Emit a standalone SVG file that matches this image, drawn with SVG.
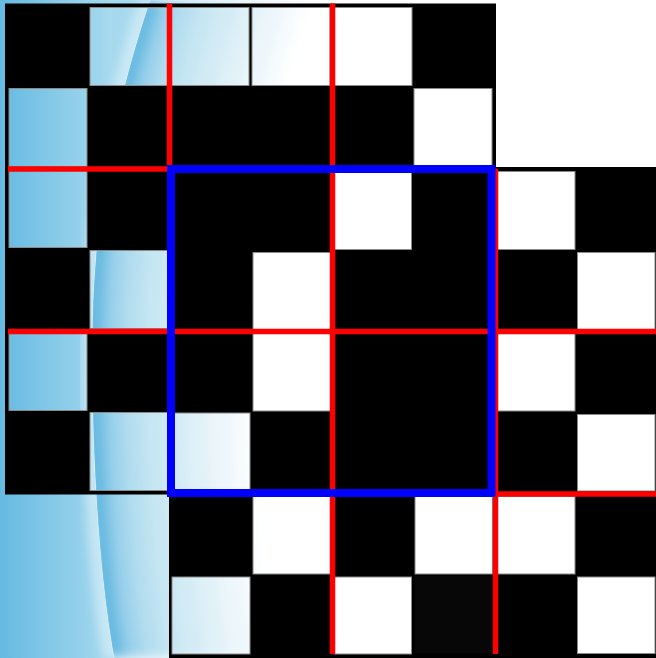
<svg xmlns="http://www.w3.org/2000/svg" xmlns:xlink="http://www.w3.org/1999/xlink" width="656" height="658" viewBox="0 0 656 658">
  <style>
    .board { fill: #000000; fill-rule: evenodd; }
    .cell { fill: none; stroke: #8a8a8a; stroke-width: 1; }
    .red { stroke: #ff0000; stroke-width: 5.5; fill: none; }
    .blue { stroke: #0000ff; stroke-width: 8; fill: none; }
  </style>
  <defs>
    <path id="curve" d="M150,0 C120,90 92,200 92,350 C92,470 100,580 114,658"/>
    <path id="rs" d="M150,0 C120,90 92,200 92,350 C92,470 100,580 114,658 L800,658 L800,0 Z"/>
    <path id="ls" d="M-10,-10 L150,-10 L150,0 C120,90 92,200 92,350 C92,470 100,580 114,658 L114,668 L-10,668 Z"/>
    <clipPath id="clipR"><use xlink:href="#rs"/></clipPath>
    <clipPath id="clipL"><use xlink:href="#ls"/></clipPath>
    <filter id="blur" x="-20%" y="-20%" width="140%" height="140%">
      <feGaussianBlur stdDeviation="6"/>
    </filter>
    <filter id="blur2" x="-20%" y="-20%" width="140%" height="140%">
      <feGaussianBlur stdDeviation="5"/>
    </filter>
    <linearGradient id="gL" gradientUnits="userSpaceOnUse" x1="0" y1="0" x2="110" y2="0">
      <stop offset="0" stop-color="#66bae2"/>
      <stop offset="1" stop-color="#a6d9ee"/>
    </linearGradient>
  </defs>

  <!-- background -->
  <g id="background">
    <rect x="0" y="0" width="656" height="658" fill="#ffffff"/>
    <g clip-path="url(#clipR)">
      <g filter="url(#blur)">
        <use xlink:href="#rs" x="-8" fill="#5cb5df"/>
        <use xlink:href="#rs" x="6" fill="#7fc5e6"/>
        <use xlink:href="#rs" x="16" fill="#a0d4ec"/>
        <use xlink:href="#rs" x="32" fill="#b7dff0"/>
        <use xlink:href="#rs" x="50" fill="#c6e6f3"/>
        <use xlink:href="#rs" x="70" fill="#d3ebf5"/>
        <use xlink:href="#rs" x="92" fill="#e0f1f8"/>
        <use xlink:href="#rs" x="115" fill="#ecf6fb"/>
        <use xlink:href="#rs" x="138" fill="#f7fbfd"/>
        <use xlink:href="#rs" x="156" fill="#ffffff"/>
      </g>
    </g>
    <g clip-path="url(#clipL)">
      <use xlink:href="#ls" fill="url(#gL)"/>
      <use xlink:href="#curve" fill="none" stroke="#ffffff" stroke-width="22" stroke-opacity="0.4" filter="url(#blur2)"/>
    </g>
    <use xlink:href="#curve" fill="none" stroke="#dff0f8" stroke-width="1" stroke-opacity="0.45"/>
  </g>

  <!-- board A -->
  <g id="boardA">
    <path class="board" d="M5,3.5H496V494.5H5Z
      M90,7.5h78v78h-78Z M171,7.5h78v78h-78Z M252,7.5h78v78h-78Z M333,7.5h79v78h-79Z
      M9,88.5h78v78h-78Z M414,88.5h78v78h-78Z
      M9,169.5h78v78h-78Z M334,172h77.5v77.5h-77.5Z
      M90,250.5h78v78h-78Z M253,252.5h77.5v77.5h-77.5Z
      M9,331.5h78v79h-78Z M253,333.5h77.5v77.5h-77.5Z
      M90,412.5h78v78h-78Z M172,413h78v77h-78Z"/>
  </g>

  <!-- board B -->
  <g id="boardB">
    <path class="board" d="M169,167H660V662H169Z
      M334,172h77.5v77.5h-77.5Z M496,171.5h79v78h-79Z
      M253,252.5h77.5v77.5h-77.5Z M577.5,252.5h77.5v77h-77.5Z
      M253,333.5h77.5v77.5h-77.5Z M496,333.5h79v77.5h-79Z
      M172,413h78v77h-78Z M577.5,414.5h77.5v76.5h-77.5Z
      M253,496.5h77.5v77.5h-77.5Z M415,496.5h77.5v77.5h-77.5Z M496,496.5h79v77.5h-79Z
      M172,577h78v77h-78Z M334,577h77.5v77h-77.5Z M577.5,577h77.5v76.5h-77.5Z"/>
    <rect x="415" y="576" width="77.5" height="77.5" fill="#070707"/>
  </g>

  <!-- cell outlines -->
  <g id="cellOutlines">
    <rect class="cell" x="90" y="7.5" width="78" height="78"/>
    <rect class="cell" x="171" y="7.5" width="78" height="78"/>
    <rect class="cell" x="252" y="7.5" width="78" height="78"/>
    <rect class="cell" x="333" y="7.5" width="79" height="78"/>
    <rect class="cell" x="9" y="88.5" width="78" height="78"/>
    <rect class="cell" x="414" y="88.5" width="78" height="78"/>
    <rect class="cell" x="9" y="169.5" width="78" height="78"/>
    <rect class="cell" x="334" y="172" width="77.5" height="77.5"/>
    <rect class="cell" x="496" y="171.5" width="79" height="78"/>
    <rect class="cell" x="90" y="250.5" width="78" height="78"/>
    <rect class="cell" x="253" y="252.5" width="77.5" height="77.5"/>
    <rect class="cell" x="577.5" y="252.5" width="77.5" height="77"/>
    <rect class="cell" x="9" y="331.5" width="78" height="79"/>
    <rect class="cell" x="253" y="333.5" width="77.5" height="77.5"/>
    <rect class="cell" x="496" y="333.5" width="79" height="77.5"/>
    <rect class="cell" x="90" y="412.5" width="78" height="78"/>
    <rect class="cell" x="172" y="413" width="78" height="77"/>
    <rect class="cell" x="577.5" y="414.5" width="77.5" height="76.5"/>
    <rect class="cell" x="253" y="496.5" width="77.5" height="77.5"/>
    <rect class="cell" x="415" y="496.5" width="77.5" height="77.5"/>
    <rect class="cell" x="496" y="496.5" width="79" height="77.5"/>
    <rect class="cell" x="172" y="577" width="78" height="77"/>
    <rect class="cell" x="334" y="577" width="77.5" height="77"/>
    <rect class="cell" x="577.5" y="577" width="77.5" height="76.5"/>
  </g>

  <!-- red grid lines -->
  <g id="redLines">
    <line class="red" x1="169.5" y1="3.5" x2="169.5" y2="169"/>
    <line class="red" x1="332.5" y1="3.5" x2="332.5" y2="654"/>
    <line class="red" x1="495.5" y1="169" x2="495.5" y2="654"/>
    <line class="red" x1="8" y1="169" x2="171" y2="169"/>
    <line class="red" x1="8" y1="331.5" x2="656" y2="331.5"/>
    <line class="red" x1="495" y1="494" x2="656" y2="494"/>
  </g>

  <!-- blue square -->
  <g id="blueSquare">
    <rect class="blue" x="171" y="169" width="320.5" height="324"/>
  </g>
</svg>
